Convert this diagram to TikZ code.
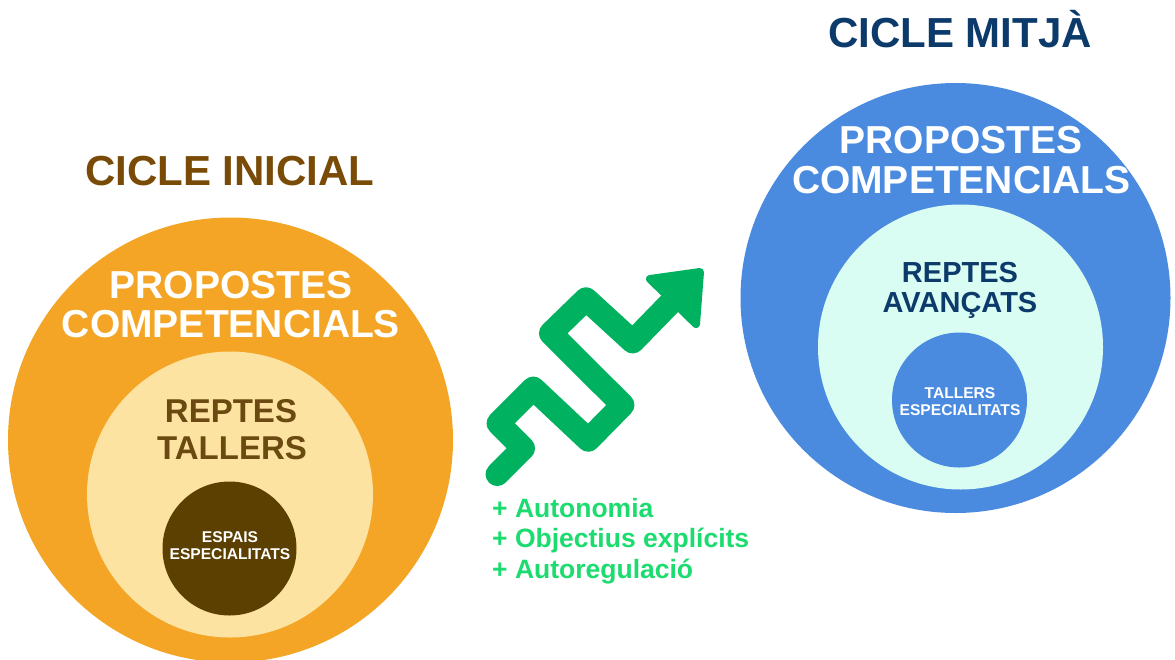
\documentclass[tikz,border=0pt]{standalone}
\usepackage{fontspec}
\setmainfont{Liberation Sans}
\definecolor{orangeC}{HTML}{F4A526}
\definecolor{lightC}{HTML}{FDE3A2}
\definecolor{darkC}{HTML}{5C4002}
\definecolor{brownT}{HTML}{7A4A07}
\definecolor{oliveT}{HTML}{6A4A10}
\definecolor{blueC}{HTML}{4A8BE0}
\definecolor{cyanC}{HTML}{D9FCF3}
\definecolor{navyT}{HTML}{0C3A6B}
\definecolor{arrowG}{HTML}{00B160}
\definecolor{textG}{HTML}{1CDC6F}
\tikzset{
  ttl/.style={font=\bfseries\fontsize{42}{46}\selectfont, anchor=base},
  bigt/.style={font=\bfseries\fontsize{39}{40}\selectfont, text=white, align=center, anchor=base},
  smallt/.style={font=\bfseries\fontsize{15.6}{17}\selectfont, text=white, align=center, anchor=base},
  plus/.style={font=\bfseries\fontsize{26.5}{30}\selectfont, text=textG, anchor=base west, inner sep=0pt},
}
\begin{document}
\begin{tikzpicture}[x=1pt,y=-1pt]
\clip (0,0) rectangle (1175,659);
\fill[white] (0,0) rectangle (1175,659);
% left circles
\fill[orangeC] (230.5,440) circle (222.5);
\fill[lightC] (230,494.5) circle (143);
\fill[darkC] (229.5,548.5) circle (67);
% right circles
\fill[blueC] (955.5,298) circle (215);
\fill[cyanC] (960.5,347) circle (142.5);
\fill[blueC] (959.5,400) circle (67.5);
% titles
\node[ttl, text=brownT] (t1) at (230,185) {CICLE INICIAL};
\node[ttl, text=navyT] (t2) at (960,47) {CICLE MITJÀ};
% left texts
\node[bigt] (p1a) at (231,298) {PROPOSTES};
\node[bigt] (p1b) at (231,337) {COMPETENCIALS};
\node[font=\bfseries\fontsize{33}{37}\selectfont, text=oliveT, anchor=base] (r1a) at (231,422) {REPTES};
\node[font=\bfseries\fontsize{33}{37}\selectfont, text=oliveT, anchor=base] (r1b) at (232,459) {TALLERS};
\node[smallt] (s1a) at (230,542) {ESPAIS};
\node[smallt] (s1b) at (230,559) {ESPECIALITATS};
% right texts
\node[bigt] (p2a) at (961,153) {PROPOSTES};
\node[bigt] (p2b) at (961,193) {COMPETENCIALS};
\node[font=\bfseries\fontsize{29}{30}\selectfont, text=navyT, anchor=base] (r2a) at (960,282) {REPTES};
\node[font=\bfseries\fontsize{29}{30}\selectfont, text=navyT, anchor=base] (r2b) at (960,312) {AVANÇATS};
\node[smallt] (s2a) at (960,398) {TALLERS};
\node[smallt] (s2b) at (960,415) {ESPECIALITATS};
% arrow
\draw[arrowG, line width=23.5pt, line cap=round, line join=round]
  (497.3,474.3) -- (523.3,448.3) -- (498.3,423.3) -- (533.3,388.3) -- (588.3,440)
  -- (622.7,405) -- (550.7,333.3) -- (586,299) -- (632.7,341.7) -- (673.3,300);
\filldraw[arrowG, line width=8pt, line join=round]
  (650,279) -- (700,272) -- (696,324) -- cycle;
% green list
\node[plus] (l1) at (492,517) {+ Autonomia};
\node[plus] (l2) at (492,547) {+ Objectius explícits};
\node[plus] (l3) at (492,578) {+ Autoregulació};
\end{tikzpicture}
\end{document}
